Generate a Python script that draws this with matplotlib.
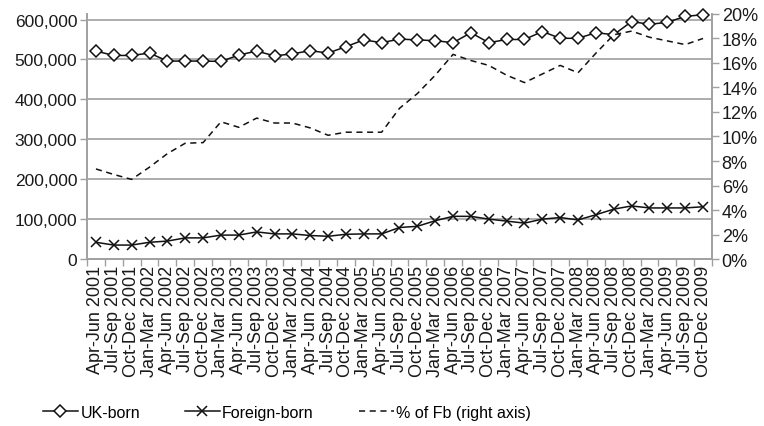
import numpy as np
import matplotlib.pyplot as plt
from matplotlib.ticker import FuncFormatter, FixedLocator

quarters = [
    "Apr-Jun 2001", "Jul-Sep 2001", "Oct-Dec 2001",
    "Jan-Mar 2002", "Apr-Jun 2002", "Jul-Sep 2002", "Oct-Dec 2002",
    "Jan-Mar 2003", "Apr-Jun 2003", "Jul-Sep 2003", "Oct-Dec 2003",
    "Jan-Mar 2004", "Apr-Jun 2004", "Jul-Sep 2004", "Oct-Dec 2004",
    "Jan-Mar 2005", "Apr-Jun 2005", "Jul-Sep 2005", "Oct-Dec 2005",
    "Jan-Mar 2006", "Apr-Jun 2006", "Jul-Sep 2006", "Oct-Dec 2006",
    "Jan-Mar 2007", "Apr-Jun 2007", "Jul-Sep 2007", "Oct-Dec 2007",
    "Jan-Mar 2008", "Apr-Jun 2008", "Jul-Sep 2008", "Oct-Dec 2008",
    "Jan-Mar 2009", "Apr-Jun 2009", "Jul-Sep 2009", "Oct-Dec 2009",
]

uk_born = [521000, 510000, 510000, 516000, 496000, 496000, 496000,
           495000, 511000, 521000, 509000, 514000, 522000, 516000, 532000,
           549000, 542000, 551000, 549000, 547000, 542000, 567000, 542000,
           550000, 550000, 570000, 553000, 553000, 567000, 562000, 595000,
           588000, 593000, 608000, 612000]

foreign_born = [42000, 35000, 35000, 42000, 45000, 53000, 53000,
                60000, 60000, 68000, 63000, 63000, 59000, 57000, 62000,
                63000, 63000, 79000, 82000, 96000, 107000, 107000, 100000,
                95000, 90000, 100000, 104000, 98000, 111000, 125000, 133000,
                128000, 128000, 128000, 131000]

# share of foreign-born, percent (right axis)
pct_fb = [7.35, 6.9, 6.5, 7.5, 8.6, 9.45, 9.5,
          11.2, 10.75, 11.5, 11.1, 11.1, 10.7, 10.1, 10.35,
          10.35, 10.35, 12.3, 13.5, 15.0, 16.7, 16.2, 15.8,
          15.0, 14.4, 15.1, 15.8, 15.2, 16.8, 18.3, 18.6,
          18.1, 17.8, 17.5, 18.0]

plt.rcParams['font.family'] = ['Liberation Sans', 'DejaVu Sans']
grey = '#a0a0a0'
txt = '#1a1a1a'

fig = plt.figure(figsize=(7.64, 4.27), dpi=100)
ax = fig.add_axes([0.1139, 0.391, 0.818, 0.574])
x = np.arange(len(quarters))

ax.plot(x, uk_born, color='#111111', lw=1.1, marker='D', ms=6.5,
        mfc='white', mec='#111111', mew=1.1, label='UK-born',
        zorder=3, clip_on=False)
ax.plot(x, foreign_born, color='#111111', lw=1.1, marker='x', ms=7,
        mew=1.1, label='Foreign-born', zorder=3, clip_on=False)

ax2 = ax.twinx()
ax2.plot(x, pct_fb, color='#111111', lw=1.1, ls='--', dashes=(4, 3),
         label='% of Fb (right axis)', clip_on=False)

ax.set_xlim(-0.5, len(quarters) - 0.5)
ax.set_ylim(0, 614000)
ax2.set_ylim(0, 20)

ax.set_yticks(np.arange(0, 600001, 100000))
ax.yaxis.set_major_formatter(FuncFormatter(lambda v, p: f"{v:,.0f}"))
ax2.set_yticks(np.arange(0, 21, 2))
ax2.yaxis.set_major_formatter(FuncFormatter(lambda v, p: f"{v:.0f}%"))

ax.set_xticks(x)
ax.set_xticklabels(quarters, rotation=90, fontsize=13, color=txt)
ax.xaxis.set_minor_locator(FixedLocator(np.arange(-0.5, len(quarters), 1)))
ax.tick_params(axis='x', which='major', length=0, pad=4)
ax.tick_params(axis='x', which='minor', length=5, color=grey, width=1)
ax.tick_params(axis='y', length=5, color=grey, width=1, labelsize=12.5,
               labelcolor=txt, pad=2)
ax2.tick_params(axis='y', length=5, color=grey, width=1, labelsize=13,
                labelcolor=txt, pad=2)

ax.yaxis.grid(True, color=grey, lw=1.2)
ax.set_axisbelow(True)

for a in (ax, ax2):
    a.spines['top'].set_visible(False)
    for s in ('left', 'right', 'bottom'):
        a.spines[s].set_color(grey)
        a.spines[s].set_linewidth(1.2)

h1, l1 = ax.get_legend_handles_labels()
h2, l2 = ax2.get_legend_handles_labels()
fig.legend(h1 + h2, l1 + l2, loc='center left', bbox_to_anchor=(0.056, 0.032),
           ncol=3, frameon=False, handlelength=2.2, columnspacing=2.8,
           handletextpad=0.15, borderpad=0, borderaxespad=0,
           prop={'size': 11.5})

fig.savefig("out.png", dpi=100)
